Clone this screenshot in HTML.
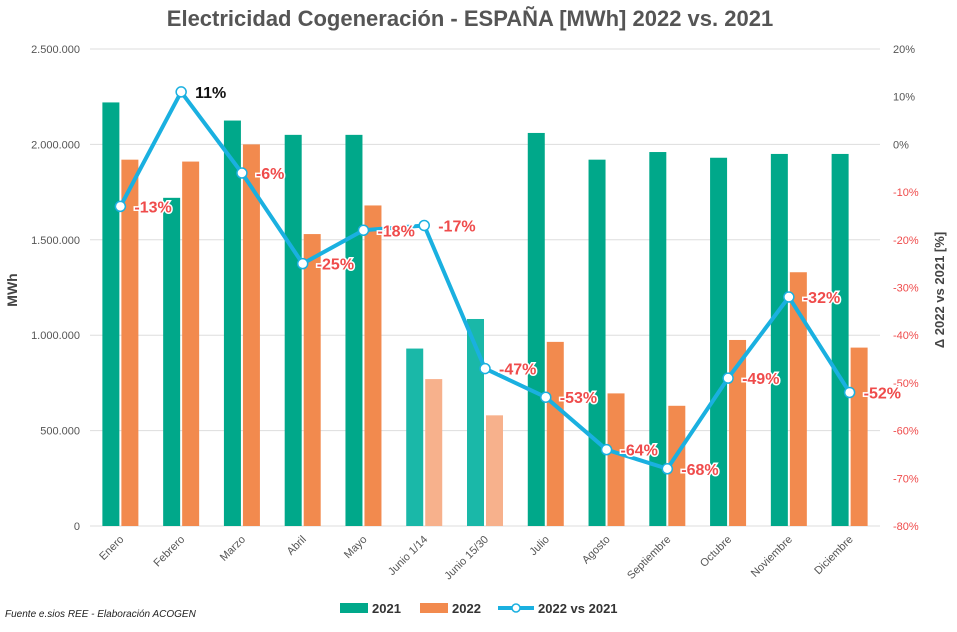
<!DOCTYPE html>
<html><head><meta charset="utf-8"><style>
body{margin:0;background:#fff;width:957px;height:627px;overflow:hidden}
svg{font-family:"Liberation Sans",sans-serif}
</style></head><body>
<svg id="c" width="957" height="627">
<text x="470" y="26" text-anchor="middle" font-size="22" font-weight="bold" fill="#555">Electricidad Cogeneración - ESPAÑA [MWh] 2022 vs. 2021</text>
<text transform="translate(17,290) rotate(-90)" text-anchor="middle" font-size="14" font-weight="bold" fill="#444">MWh</text>
<text transform="translate(944,290) rotate(-90)" text-anchor="middle" font-size="13" font-weight="bold" fill="#444">Δ 2022 vs 2021 [%]</text>
<text x="5" y="617" font-size="10" font-style="italic" fill="#222">Fuente e.sios REE - Elaboración ACOGEN</text>
<g>
<rect x="340" y="603" width="28" height="10" fill="#00a88a"/>
<text x="372" y="613" font-size="13" font-weight="bold" fill="#333">2021</text>
<rect x="420" y="603" width="28" height="10" fill="#f28a4e"/>
<text x="452" y="613" font-size="13" font-weight="bold" fill="#333">2022</text>
<line x1="498" y1="608" x2="534" y2="608" stroke="#1ab0e0" stroke-width="4"/>
<circle cx="516" cy="608" r="4" fill="#fff" stroke="#1ab0e0" stroke-width="1.5"/>
<text x="538" y="613" font-size="13" font-weight="bold" fill="#333">2022 vs 2021</text>
</g>
<g id="plot"></g>
</svg>
<script>
const categories=["Enero","Febrero","Marzo","Abril","Mayo","Junio 1/14","Junio 15/30","Julio","Agosto","Septiembre","Octubre","Noviembre","Diciembre"];
const v2021=[2220000,1720000,2125000,2050000,2050000,930000,1085000,2060000,1920000,1960000,1930000,1950000,1950000];
const v2022=[1920000,1910000,2000000,1530000,1680000,770000,580000,965000,695000,630000,975000,1330000,935000];
const pct=[-13,11,-6,-25,-18,-17,-47,-53,-64,-68,-49,-32,-52];
const leftTicks=[0,500000,1000000,1500000,2000000,2500000];
const leftTickLabels=["0","500.000","1.000.000","1.500.000","2.000.000","2.500.000"];
const rightTicks=[20,10,0,-10,-20,-30,-40,-50,-60,-70,-80];
const light=[false,false,false,false,false,true,true,false,false,false,false,false,false];

const NS="http://www.w3.org/2000/svg";
const g=document.getElementById("plot");
const X0=90,X1=880,Y0=526,Y1=49;
const step=(X1-X0)/categories.length;
const xc=i=>X0+step*(i+0.5);
const yL=v=>Y0-(v/2500000)*(Y0-Y1);
const yR=p=>Y0-((p+80)/100)*(Y0-Y1);
function mk(t,a,txt){const e=document.createElementNS(NS,t);for(const k in a)e.setAttribute(k,a[k]);if(txt!==undefined)e.textContent=txt;g.appendChild(e);return e;}

leftTicks.forEach((t,i)=>{
 const l=mk("line",{x1:X0,x2:X1,y1:yL(t),y2:yL(t),stroke:"#ddd","stroke-width":1});
 
 
 const tx=mk("text",{x:80,y:yL(t)+4,"text-anchor":"end","font-size":11,fill:"#555"},leftTickLabels[i]);
 
 
});
rightTicks.forEach(t=>{
 const tx=mk("text",{x:893,y:yR(t)+4,"text-anchor":"start","font-size":11,fill:t<0?"#ef4b4b":"#555"},t+"%");
 
 
});
categories.forEach((c,i)=>{
 const b1=mk("rect",{x:xc(i)-18,y:yL(v2021[i]),width:17,height:Y0-yL(v2021[i]),fill:light[i]?"#1ab8a8":"#00a88a"});
 
 
 const b2=mk("rect",{x:xc(i)+1,y:yL(v2022[i]),width:17,height:Y0-yL(v2022[i]),fill:light[i]?"#f7b18c":"#f28a4e"});
 
 
 const tx=mk("text",{transform:`translate(${xc(i)+4},540) rotate(-45)`,"text-anchor":"end","font-size":11,fill:"#555"},c);
 
 
});
const pts=pct.map((p,i)=>xc(i)+","+yR(p)).join(" ");
const pl=mk("polyline",{points:pts,fill:"none",stroke:"#1ab0e0","stroke-width":4,"stroke-linejoin":"round"});


pct.forEach((p,i)=>{
 const c=mk("circle",{cx:xc(i),cy:yR(p),r:5,fill:"#fff",stroke:"#1ab0e0","stroke-width":1.5});
 
 
 const t=mk("text",{x:xc(i)+14,y:yR(p)+6,"font-size":16,"font-weight":"bold",fill:p>0?"#111":"#ef4b4b",stroke:"#fff","stroke-width":3,"paint-order":"stroke"},p+"%");
 
 
});
</script>
</body></html>
